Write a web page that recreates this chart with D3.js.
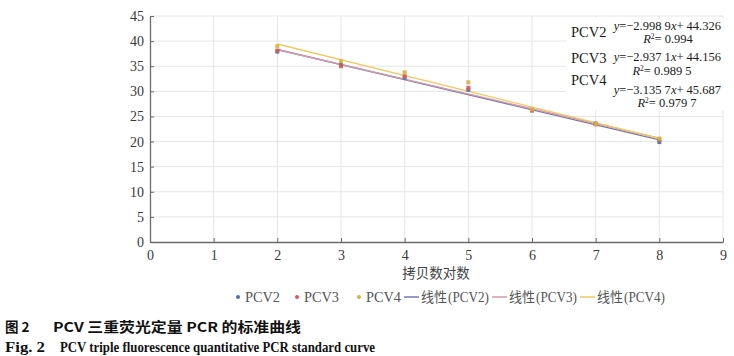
<!DOCTYPE html>
<html><head><meta charset="utf-8">
<script src="https://cdn.jsdelivr.net/npm/d3@7"></script>
<style>body{margin:0;background:#fff;} svg{display:block;}</style>
</head><body>
<svg id="c" width="734" height="356"></svg>
<script>
const xValues = [2, 3, 4, 5, 6, 7, 8];
const pcv2 = [37.9, 35.3, 32.7, 30.3, 26.2, 23.6, 19.9];
const pcv3 = [38.1, 35.0, 33.0, 30.7, 26.2, 23.4, 20.4];
const pcv4 = [39.0, 36.0, 33.8, 31.8, 26.4, 23.5, 20.6];
const seriesNames = ["PCV2", "PCV3", "PCV4"];
const slopes = [-2.9989, -2.9371, -3.1357];
const intercepts = [44.326, 44.156, 45.687];
const eqLabels = ["−2.998 9", "−2.937 1", "−3.135 7"];
const intLabels = ["44.326", "44.156", "45.687"];
const r2Labels = ["0.994", "0.989 5", "0.979 7"];
const xTicks = [0,1,2,3,4,5,6,7,8,9];
const yTicks = [0,5,10,15,20,25,30,35,40,45];
const xTitle = "拷贝数对数";
const caption1a = "图 2", caption1b = "PCV 三重荧光定量 PCR 的标准曲线";
const caption2a = "Fig. 2", caption2b = "PCV triple fluorescence quantitative PCR standard curve";

const pointColors = ["#4d72aa", "#dd5a58", "#d9b13e"];
const lineColors = ["#7378b6", "#d39aaa", "#f1c862"];
const serif = "'Liberation Serif','Times New Roman',serif";
const cjk = "'Noto Sans CJK SC',sans-serif";

const svg = d3.select("#c");
const x = d3.scaleLinear().domain([0,9]).range([150,723]);
const y = d3.scaleLinear().domain([0,45]).range([242,16]);

// grid
svg.append("g").selectAll("line").data(yTicks.slice(1)).join("line")
  .attr("x1", x(0)).attr("x2", x(9)).attr("y1", d=>y(d)).attr("y2", d=>y(d))
  .attr("stroke", "#e6e6e6").attr("stroke-width", 1);
svg.append("g").selectAll("line").data(xTicks.slice(1)).join("line")
  .attr("x1", d=>x(d)).attr("x2", d=>x(d)).attr("y1", y(0)).attr("y2", y(45))
  .attr("stroke", "#e6e6e6").attr("stroke-width", 1);

// axes
const xAxis = svg.append("g").attr("transform", `translate(0,${y(0)})`)
  .call(d3.axisBottom(x).tickValues(xTicks).tickSizeInner(-4).tickSizeOuter(0).tickPadding(8));
const yAxis = svg.append("g").attr("transform", `translate(${x(0)},0)`)
  .call(d3.axisLeft(y).tickValues(yTicks).tickSizeInner(-4).tickSizeOuter(0).tickPadding(6));
[xAxis, yAxis].forEach(a => {
  a.select(".domain").attr("stroke", "#6b6b6b").attr("stroke-width", 1.3);
  a.selectAll(".tick line").attr("stroke", "#6b6b6b");
  a.selectAll(".tick text").attr("font-family", serif).attr("font-size", 14).attr("fill", "#3a3a3a");
});

// trendlines
const allData = [pcv2, pcv3, pcv4];
[0,1,2].forEach(i => {
  svg.append("line")
    .attr("x1", x(2)).attr("x2", x(8))
    .attr("y1", y(slopes[i]*2 + intercepts[i])).attr("y2", y(slopes[i]*8 + intercepts[i]))
    .attr("stroke", lineColors[i]).attr("stroke-width", 1.4);
});
// points
[0,1,2].forEach(i => {
  svg.append("g").selectAll("rect").data(allData[i]).join("rect")
    .attr("x", (d,j)=>x(xValues[j])-2).attr("y", d=>y(d)-2)
    .attr("width", 4).attr("height", 4)
    .attr("fill", pointColors[i]).attr("opacity", 0.9);
});

// annotation box
svg.append("rect").attr("x", 566).attr("y", 18).attr("width", 158).attr("height", 92).attr("fill", "#fff");
const ann = svg.append("g").attr("font-family", serif).attr("fill", "#1a1a1a");
const nameY = [37, 63, 85];
const eqY = [30, 61, 94];
const r2Y = [43, 75, 107];
const r2X = [668, 662, 667];
[0,1,2].forEach(i => {
  ann.append("text").attr("x", 571).attr("y", nameY[i]).attr("font-size", 14.5).text(seriesNames[i]);
  const t = ann.append("text").attr("x", 721).attr("y", eqY[i]).attr("font-size", 12.5).attr("text-anchor", "end");
  t.append("tspan").attr("font-style", "italic").text("y");
  t.append("tspan").text("=" + eqLabels[i]);
  t.append("tspan").attr("font-style", "italic").text("x");
  t.append("tspan").text("+ " + intLabels[i]);
  const r = ann.append("text").attr("x", r2X[i]).attr("y", r2Y[i]).attr("font-size", 12.5).attr("text-anchor", "middle");
  r.append("tspan").attr("font-style", "italic").text("R");
  r.append("tspan").attr("font-size", 7.5).attr("dy", -4).text("2");
  r.append("tspan").attr("dy", 4).text("= " + r2Labels[i]);
});

// x title
svg.append("text").attr("x", 436).attr("y", 278).attr("text-anchor", "middle")
  .attr("font-family", cjk).attr("font-size", 13.5).attr("fill", "#444").text(xTitle);

// legend
const lg = svg.append("g").attr("font-family", serif).attr("font-size", 14).attr("fill", "#555");
const dotX = [238, 297, 359];
[0,1,2].forEach(i => {
  lg.append("circle").attr("cx", dotX[i]).attr("cy", 297).attr("r", 2).attr("fill", pointColors[i]);
  lg.append("text").attr("x", dotX[i] + 7).attr("y", 302).attr("textLength", 35).attr("lengthAdjust", "spacingAndGlyphs").text(seriesNames[i]);
});
const lnX = [404, 492, 580];
[0,1,2].forEach(i => {
  lg.append("line").attr("x1", lnX[i]).attr("x2", lnX[i] + 15).attr("y1", 297).attr("y2", 297)
    .attr("stroke", lineColors[i]).attr("stroke-width", 1.5);
  lg.append("text").attr("x", lnX[i] + 17).attr("y", 302).attr("font-family", cjk).attr("font-size", 13.5)
    .attr("textLength", 26).attr("lengthAdjust", "spacingAndGlyphs").text("线性");
  lg.append("text").attr("x", lnX[i] + 44).attr("y", 302)
    .attr("textLength", 41).attr("lengthAdjust", "spacingAndGlyphs").text("(" + seriesNames[i] + ")");
});

// captions
svg.append("text").attr("x", 5).attr("y", 332).attr("font-family", cjk).attr("font-weight", "bold")
  .attr("font-size", 13.5).attr("fill", "#111").text(caption1a);
svg.append("text").attr("x", 53).attr("y", 332).attr("font-family", cjk).attr("font-weight", "bold")
  .attr("font-size", 13.5).attr("fill", "#111").attr("textLength", 248).attr("lengthAdjust", "spacingAndGlyphs").text(caption1b);
svg.append("text").attr("x", 5).attr("y", 352).attr("font-family", serif).attr("font-weight", "bold")
  .attr("font-size", 14).attr("fill", "#111").attr("textLength", 40).attr("lengthAdjust", "spacingAndGlyphs").text(caption2a);
svg.append("text").attr("x", 60).attr("y", 352).attr("font-family", serif).attr("font-weight", "bold")
  .attr("font-size", 14).attr("fill", "#111").attr("textLength", 315).attr("lengthAdjust", "spacingAndGlyphs").text(caption2b);
</script>
</body></html>
